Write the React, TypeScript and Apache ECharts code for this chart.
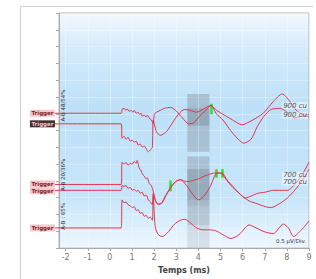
import React, { useEffect, useRef } from "react";
import * as echarts from "echarts";

const xTicks = [-2, -1, 0, 1, 2, 3, 4, 5, 6, 7, 8, 9];
const xMin = -2.3;
const xMax = 9;
const yMin = 0;
const yMax = 14;

const traceA: [number, number][] = [
  [-2.3, 8.03], [0.51, 8.03], [0.55, 8.26], [0.64, 8.32], [0.73, 8.2], [0.78, 8.29], [0.87, 8.15],
  [0.96, 8.2], [1.05, 8.09], [1.1, 8.2], [1.19, 8.03], [1.28, 8.09], [1.33, 7.97], [1.42, 8.03],
  [1.46, 7.86], [1.55, 7.92], [1.64, 7.8], [1.69, 7.92], [1.78, 7.75], [1.87, 7.63], [1.92, 7.52],
  [1.96, 7.4], [2.01, 7.97], [2.1, 8.09], [2.28, 8.2], [2.46, 8.32], [2.74, 8.38], [3.01, 8.15],
  [3.28, 7.75], [3.56, 7.4], [3.79, 7.46], [4.06, 7.86], [4.33, 8.2], [4.56, 8.49], [4.83, 8.2],
  [5.11, 7.97], [5.47, 7.69], [5.97, 7.34], [6.38, 7.57], [6.93, 8.03], [7.38, 8.72], [7.79, 9.18],
  [8.11, 8.78], [8.43, 8.2], [8.75, 7.92], [9.0, 7.8],
];
const traceB: [number, number][] = [
  [-2.3, 7.4], [0.51, 7.4], [0.55, 6.54], [0.64, 6.66], [0.73, 6.48], [0.82, 6.6], [0.92, 6.37],
  [1.01, 6.43], [1.1, 6.31], [1.19, 6.37], [1.28, 6.14], [1.37, 6.2], [1.46, 6.02], [1.55, 6.08],
  [1.64, 5.91], [1.74, 5.74], [1.83, 5.85], [1.92, 6.02], [1.96, 7.63], [2.1, 6.94], [2.28, 6.71],
  [2.56, 6.94], [2.83, 7.46], [3.1, 7.97], [3.38, 8.26], [3.65, 8.2], [3.92, 8.09], [4.2, 8.26],
  [4.42, 8.43], [4.56, 8.49], [4.83, 7.97], [5.11, 7.63], [5.56, 6.83], [6.06, 6.25], [6.38, 6.48],
  [6.66, 7.23], [6.97, 7.86], [7.29, 8.26], [7.7, 8.32], [8.07, 8.03], [8.34, 7.75], [8.66, 7.86],
  [9.0, 7.97],
];
const traceC: [number, number][] = [
  [-2.3, 3.79], [0.51, 3.79], [0.55, 5.11], [0.64, 4.99], [0.73, 5.11], [0.82, 4.93], [0.92, 5.05],
  [1.01, 4.99], [1.1, 5.16], [1.19, 5.05], [1.23, 5.22], [1.33, 4.76], [1.42, 4.59], [1.46, 4.42],
  [1.55, 4.3], [1.64, 4.13], [1.69, 4.19], [1.78, 3.84], [1.87, 3.73], [1.92, 3.56], [1.96, 3.38],
  [2.01, 3.1], [2.1, 2.7], [2.28, 2.64], [2.51, 3.1], [2.74, 3.56], [2.97, 3.96], [3.19, 4.07],
  [3.47, 3.96], [3.74, 4.02], [4.01, 4.13], [4.29, 4.3], [4.56, 4.42], [4.79, 4.48], [5.06, 4.42],
  [5.29, 4.02], [5.56, 3.61], [5.84, 3.27], [6.11, 2.98], [6.38, 3.1], [6.7, 3.27], [7.02, 3.33],
  [7.38, 3.44], [7.75, 3.44], [8.02, 3.44], [8.39, 3.84], [8.66, 4.3], [9.0, 5.11],
];
const traceD: [number, number][] = [
  [-2.3, 3.44], [0.51, 3.44], [0.55, 3.73], [0.64, 3.67], [0.73, 3.73], [0.82, 3.56], [0.92, 3.61],
  [1.01, 3.44], [1.1, 3.5], [1.19, 3.38], [1.28, 3.44], [1.37, 3.27], [1.46, 3.33], [1.55, 3.1],
  [1.64, 3.16], [1.74, 2.87], [1.83, 2.75], [1.92, 2.58], [1.96, 3.27], [2.05, 2.87], [2.19, 2.58],
  [2.37, 2.7], [2.56, 3.21], [2.74, 3.61], [2.97, 3.96], [3.19, 4.07], [3.47, 3.73], [3.74, 3.21],
  [4.01, 2.87], [4.29, 3.16], [4.56, 3.73], [4.79, 4.42], [5.06, 4.48], [5.29, 4.07], [5.56, 3.67],
  [5.93, 3.16], [6.29, 2.81], [6.66, 2.64], [7.02, 2.47], [7.29, 2.41], [7.66, 2.64], [8.02, 2.98],
  [8.39, 3.5], [8.75, 4.13], [9.0, 4.7],
];
const traceE: [number, number][] = [
  [-2.3, 1.2], [0.51, 1.2], [0.55, 2.87], [0.64, 2.7], [0.73, 2.75], [0.82, 2.58], [0.92, 2.52],
  [1.01, 2.41], [1.1, 2.47], [1.19, 2.24], [1.28, 2.29], [1.37, 2.07], [1.46, 2.12], [1.55, 1.89],
  [1.64, 1.95], [1.74, 1.78], [1.83, 1.84], [1.92, 1.66], [1.96, 3.1], [2.05, 1.26], [2.19, 0.8],
  [2.37, 0.69], [2.65, 0.98], [2.92, 1.43], [3.19, 1.66], [3.38, 1.72], [3.65, 1.49], [3.92, 1.2],
  [4.2, 1.09], [4.47, 1.09], [4.79, 1.03], [5.11, 0.8], [5.47, 0.57], [5.84, 0.8], [6.29, 1.38],
  [6.61, 1.2], [6.97, 0.98], [7.38, 0.86], [7.84, 1.43], [8.07, 1.2], [8.3, 0.69], [8.66, 1.09],
  [9.0, 1.61],
];
const traces = [traceA, traceB, traceC, traceD, traceE];
const traceBaselines = [8.03, 7.4, 3.79, 3.44, 1.2];
const triggerLabels = ["Trigger", "Trigger", "Trigger", "Trigger", "Trigger"];
const selectedTrigger = 1;

// analysis window [t0, t1] and vertical bands [vLow, vHigh]
const windowStart = 3.5;
const windowEnd = 4.5;
const bandsLight: [number, number][] = [[5.74, 9.18], [1.38, 5.45]];
const bandsLighter: [number, number][] = [[0, 1.38]];
const bandsDark: [number, number][] = [[7.29, 8.32], [2.87, 4.7]];
const bandsMedium: [number, number][] = [[2.52, 2.87]];

const markerTimes = [4.58, 2.74, 4.79, 5.06];
const markerRanges: [number, number][] = [[7.97, 8.6], [3.38, 4.02], [4.19, 4.7], [4.19, 4.7]];

const endLabels = ["900 cu", "900 cu", "700 cu", "700 cu"];
const endLabelLevels = [8.49, 7.92, 4.33, 3.93];
const sideLabels = ["A-B 48/54%", "A-B 20/36%", "A-B : 65%"];
const sideLabelLevels = [8.49, 4.36, 1.89];
const scaleLabel = "0.5 µV/Div.";
const scaleLabelLevel = 0.4;

const TRACE_COLOR = "#e3324e";
const FONT = "DejaVu Sans";

export default function App() {
  const ref = useRef<HTMLDivElement>(null);
  useEffect(() => {
    if (!ref.current) return;
    const chart = echarts.init(ref.current, null, { renderer: "svg" });
    const area = (bands: [number, number][], color: string) =>
      bands.map(([lo, hi]) => [
        { xAxis: windowStart, yAxis: lo, itemStyle: { color } },
        { xAxis: windowEnd, yAxis: hi },
      ]);
    const series: any[] = traces.map((d) => ({
      type: "line",
      data: d,
      showSymbol: false,
      smooth: 0.25,
      lineStyle: { color: TRACE_COLOR, width: 1 },
      silent: true,
      z: 5,
    }));
    series.push({
      type: "line",
      data: [],
      silent: true,
      markArea: {
        silent: true,
        data: [
          ...area(bandsLight, "rgba(115,125,135,0.33)"),
          ...area(bandsLighter, "rgba(140,150,160,0.22)"),
          ...area(bandsDark, "rgba(80,90,100,0.22)"),
          ...area(bandsMedium, "rgba(80,90,100,0.1)"),
        ],
      },
      markLine: {
        silent: true,
        symbol: "none",
        label: { show: false },
        lineStyle: { color: "rgba(255,255,255,0.3)", width: 1, type: "solid" },
        data: xTicks.map((t) => ({ xAxis: t })),
      },
      z: 2,
    });
    series.push({
      type: "line",
      data: [],
      silent: true,
      markLine: {
        silent: true,
        symbol: "none",
        label: { show: false },
        lineStyle: { color: "#2ee02e", width: 2.5, type: "solid" },
        data: markerTimes.map((t, i) => [
          { coord: [t, markerRanges[i][0]] },
          { coord: [t, markerRanges[i][1]] },
        ]),
      },
      z: 8,
    });

    chart.setOption({
      animation: false,
      grid: {
        left: 59,
        top: 13,
        right: 7,
        bottom: 22,
        show: true,
        borderColor: "#b8b8b8",
        borderWidth: 1,
        backgroundColor: new echarts.graphic.LinearGradient(0, 0, 0, 1, [
          { offset: 0, color: "#f3f9fe" },
          { offset: 0.15, color: "#d4ebfb" },
          { offset: 0.4, color: "#bde0f8" },
          { offset: 0.78, color: "#c6e5f9" },
          { offset: 1, color: "#eef7fe" },
        ]),
      },
      xAxis: {
        type: "value",
        min: xMin,
        max: xMax,
        name: "Temps (ms)",
        nameLocation: "middle",
        nameGap: 14,
        nameTextStyle: { fontSize: 8, fontWeight: "bold", color: "#444", fontFamily: FONT },
        axisLine: { onZero: false, lineStyle: { color: "#aaa" } },
        axisTick: { show: true, customValues: xTicks, length: 3, lineStyle: { color: "#aaa" } },
        axisLabel: { customValues: xTicks, fontSize: 8, color: "#777", margin: 5, fontFamily: FONT },
        splitLine: { show: false },
      },
      yAxis: {
        type: "value",
        min: yMin,
        max: yMax,
        interval: 1,
        axisLine: { show: true, onZero: false, lineStyle: { color: "#aaa" } },
        axisTick: { show: true, length: 3, lineStyle: { color: "#aaa" } },
        axisLabel: { show: false },
        splitLine: { show: true, lineStyle: { color: "rgba(255,255,255,0.3)", width: 1 } },
      },
      series,
    });

    const P = (t: number, v: number) =>
      chart.convertToPixel({ xAxisIndex: 0, yAxisIndex: 0 }, [t, v]) as number[];
    const g: any[] = [];
    g.push({ type: "line", shape: { x1: 20.5, y1: 6.5, x2: 313, y2: 6.5 }, style: { stroke: "#cfcfcf", lineWidth: 1 }, silent: true });
    g.push({ type: "line", shape: { x1: 20.5, y1: 6.5, x2: 20.5, y2: 279 }, style: { stroke: "#cfcfcf", lineWidth: 1 }, silent: true });

    traceBaselines.forEach((v, i) => {
      const [x0, y] = P(xMin, v);
      const sel = i === selectedTrigger;
      g.push({
        type: "line",
        shape: { x1: x0 - 5, y1: y, x2: x0, y2: y },
        style: { stroke: TRACE_COLOR, lineWidth: 1 },
        silent: true,
      });
      g.push({
        type: "text",
        x: x0 - 4,
        y: y + (i === 2 ? -0.5 : i === 3 ? 0.5 : 0),
        silent: true,
        style: {
          text: triggerLabels[i],
          fontSize: 5.5,
          fontWeight: "bold",
          fontFamily: FONT,
          fill: sel ? "#f3c4c8" : "#7a1f2a",
          backgroundColor: sel ? "#4b2f30" : "#f6c8cc",
          padding: [0.5, 1.5, 0.5, 1.5],
          align: "right",
          verticalAlign: "middle",
        },
        z: 10,
      });
    });

    sideLabels.forEach((s, i) => {
      const [x0, y] = P(xMin, sideLabelLevels[i]);
      g.push({
        type: "text",
        x: x0 + 4,
        y: y,
        rotation: Math.PI / 2,
        silent: true,
        style: {
          text: s,
          fontSize: 5.5,
          fontFamily: FONT,
          fill: "#333",
          align: "center",
          verticalAlign: "middle",
        },
        z: 10,
      });
    });

    endLabels.forEach((s, i) => {
      const [x1, y] = P(xMax, endLabelLevels[i]);
      g.push({
        type: "text",
        x: x1 - 1,
        y: y,
        silent: true,
        style: {
          text: s,
          fontSize: 7,
          fontStyle: "italic",
          fontFamily: FONT,
          fill: "#555",
          backgroundColor: "rgba(255,255,255,0.45)",
          padding: [0, 1, 0, 1],
          align: "right",
          verticalAlign: "middle",
        },
        z: 10,
      });
    });

    {
      const [x1, y] = P(xMax, scaleLabelLevel);
      g.push({
        type: "text",
        x: x1 - 1,
        y: y,
        silent: true,
        style: {
          text: scaleLabel,
          fontSize: 5.5,
          fontFamily: FONT,
          fill: "#334",
          backgroundColor: "rgba(235,245,252,0.85)",
          padding: [1, 2, 1, 2],
          align: "right",
          verticalAlign: "middle",
        },
        z: 10,
      });
    }

    chart.setOption({ graphic: g });
    return () => chart.dispose();
  }, []);
  return (
    <div
      ref={ref}
      style={{ position: "fixed", left: 0, top: 0, width: 316, height: 279, background: "#fff" }}
    />
  );
}
